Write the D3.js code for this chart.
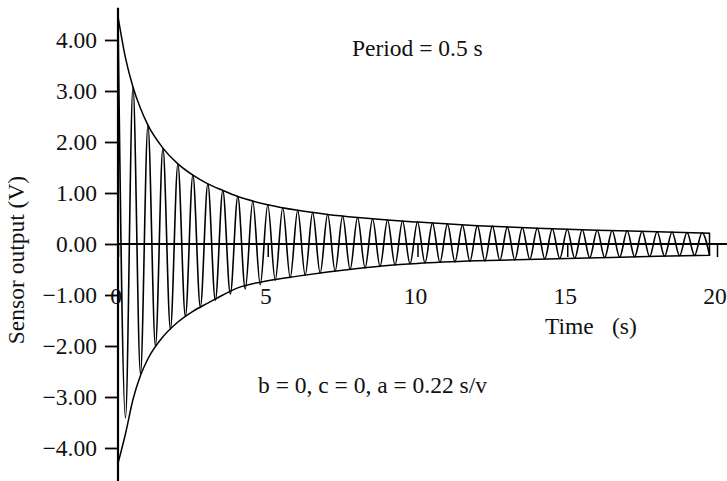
<!DOCTYPE html>
<html>
<head>
<meta charset="utf-8">
<script src="https://cdn.jsdelivr.net/npm/d3@7"></script>
<style>
  html, body { margin: 0; padding: 0; background: #fff; }
  svg { display: block; }
  text { font-family: "Liberation Serif", "DejaVu Serif", serif; fill: #111; }
</style>
</head>
<body>
<script>
// Damped sensor response: period 0.5 s, peaks every half second, troughs between them.
const period = 0.5;
const peakValues = [4.46, 3.08, 2.33, 1.88, 1.57, 1.35, 1.18, 1.05, 0.93, 0.84,
  0.77, 0.71, 0.66, 0.62, 0.58, 0.55, 0.52, 0.49, 0.47, 0.45,
  0.43, 0.41, 0.39, 0.37, 0.36, 0.35, 0.33, 0.32, 0.31, 0.30,
  0.29, 0.28, 0.27, 0.265, 0.26, 0.25, 0.24, 0.235, 0.225, 0.22];
const troughValues = [-3.41, -2.55, -2.00, -1.67, -1.42, -1.24, -1.10, -0.98, -0.88, -0.80,
  -0.71, -0.66, -0.61, -0.57, -0.53, -0.50, -0.47, -0.44, -0.41, -0.39,
  -0.37, -0.36, -0.35, -0.34, -0.33, -0.32, -0.31, -0.30, -0.29, -0.285,
  -0.28, -0.27, -0.265, -0.26, -0.25, -0.245, -0.24, -0.23, -0.225, -0.22];

// Amplitude envelope (upper and lower bounds)
const envTime  = [0, 0.25, 0.5, 0.75, 1, 1.5, 2, 2.5, 3, 3.5, 4, 5, 6, 7, 8, 9, 10, 12, 14, 16, 18, 19.75];
const envUpper = [4.46, 3.65, 3.08, 2.66, 2.33, 1.88, 1.57, 1.35, 1.18, 1.05, 0.93, 0.77, 0.66, 0.58, 0.52, 0.47, 0.43, 0.36, 0.31, 0.27, 0.24, 0.21];
const envLower = [-4.30, -3.72, -3.05, -2.58, -2.25, -1.82, -1.53, -1.32, -1.16, -1.00, -0.86, -0.72, -0.63, -0.55, -0.48, -0.42, -0.38, -0.33, -0.30, -0.27, -0.24, -0.22];

const xTicks = [0, 5, 10, 15, 20];
const yTicks = [4, 3, 2, 1, 0, -1, -2, -3, -4];
const xAxisEnd = 20.35;
const yAxisExtent = [-4.65, 4.63];

const W = 727, H = 481;
const FS = 23.5;
const INK = "#000";
const svg = d3.select("body").append("svg").attr("width", W).attr("height", H);

const x = d3.scaleLinear().domain([0, 20]).range([118, 717]);
const y = d3.scaleLinear().domain([-4, 4]).range([448, 40]);

// waveform points: alternating peaks and troughs
const wave = [];
peakValues.forEach((v, i) => {
  wave.push([i * period, v]);
  wave.push([i * period + period / 2, troughValues[i]]);
});

const env = envTime.map((t, i) => ({ t, hi: envUpper[i], lo: envLower[i] }));

// envelope drawn as a closed outline
svg.append("path")
  .datum(env)
  .attr("fill", "none")
  .attr("stroke", INK)
  .attr("stroke-width", 1.5)
  .attr("d", d3.area().curve(d3.curveMonotoneX)
    .x(d => x(d.t)).y0(d => y(d.lo)).y1(d => y(d.hi)));

svg.append("path")
  .datum(wave)
  .attr("fill", "none")
  .attr("stroke", INK)
  .attr("stroke-width", 1.6)
  .attr("d", d3.line().curve(d3.curveMonotoneX).x(d => x(d[0])).y(d => y(d[1])));

// x axis line along zero, ticks hanging below
svg.append("line")
  .attr("x1", x(0)).attr("x2", x(xAxisEnd))
  .attr("y1", y(0)).attr("y2", y(0))
  .attr("stroke", INK).attr("stroke-width", 2);

const xAxis = svg.append("g")
  .attr("transform", `translate(0,${y(0)})`)
  .call(d3.axisBottom(x).tickValues(xTicks).tickSize(13).tickPadding(30).tickFormat(d3.format("d")));
xAxis.select(".domain").remove();
xAxis.selectAll(".tick line").attr("stroke", INK).attr("stroke-width", 1.5);
xAxis.selectAll(".tick text").attr("font-size", FS).attr("font-family", "Liberation Serif")
  .attr("fill", "#111").attr("dx", -2.5);

// y axis
svg.append("line")
  .attr("x1", x(0)).attr("x2", x(0))
  .attr("y1", y(yAxisExtent[1])).attr("y2", y(yAxisExtent[0]))
  .attr("stroke", INK).attr("stroke-width", 2.2);

const yAxis = svg.append("g")
  .attr("transform", `translate(${x(0)},0)`)
  .call(d3.axisLeft(y).tickValues(yTicks).tickSize(13).tickPadding(8).tickFormat(d3.format(".2f")));
yAxis.select(".domain").remove();
yAxis.selectAll(".tick line").attr("stroke", INK).attr("stroke-width", 1.8);
yAxis.selectAll(".tick text").attr("font-size", FS).attr("font-family", "Liberation Serif").attr("fill", "#111");

// titles and annotations
svg.append("text")
  .attr("transform", `translate(24,260) rotate(-90)`)
  .attr("text-anchor", "middle")
  .attr("font-size", FS)
  .text("Sensor output (V)");

svg.append("text").attr("x", 545).attr("y", 334).attr("font-size", FS).text("Time");
svg.append("text").attr("x", 612).attr("y", 334).attr("font-size", FS).text("(s)");

svg.append("text").attr("x", 352).attr("y", 56).attr("font-size", FS).text("Period = 0.5 s");

svg.append("text").attr("x", 258).attr("y", 393).attr("font-size", FS).text("b = 0, c = 0, a = 0.22 s/v");
</script>
</body>
</html>
